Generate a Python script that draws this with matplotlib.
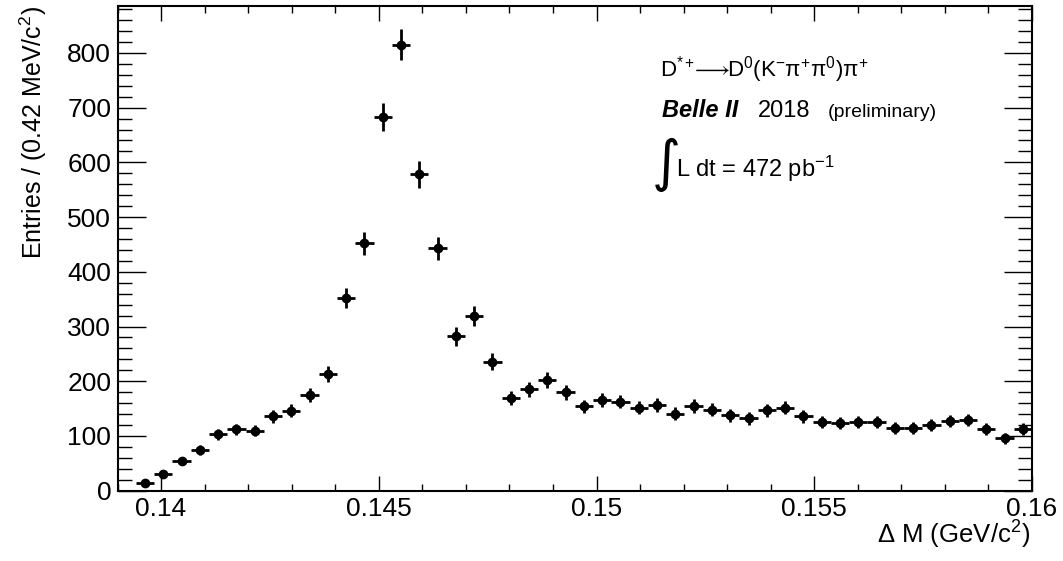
import numpy as np
import matplotlib
matplotlib.use('Agg')
import matplotlib.pyplot as plt
from matplotlib.ticker import MultipleLocator, FuncFormatter

plt.rcParams['font.family'] = ['Liberation Sans', 'DejaVu Sans']
plt.rcParams['mathtext.fontset'] = 'custom'
plt.rcParams['mathtext.rm'] = 'Liberation Sans'
plt.rcParams['mathtext.it'] = 'Liberation Sans:italic'
plt.rcParams['mathtext.bf'] = 'Liberation Sans:bold'

# Histogram definition
x_min = 0.139
x_max = 0.160
bin_width = 0.00042
counts = [0, 14, 31, 55, 74, 103, 112, 110, 136, 146,
          175, 213, 352, 452, 683, 815, 578, 443, 282, 319,
          236, 170, 185, 202, 180, 154, 165, 163, 152, 157,
          141, 155, 148, 138, 132, 147, 152, 136, 125, 123,
          125, 125, 114, 115, 120, 127, 129, 113, 96, 113]

x_ticks = [0.14, 0.145, 0.15, 0.155, 0.16]

counts = np.array(counts, dtype=float)
centers = x_min + (np.arange(len(counts)) + 0.5) * bin_width
mask = counts > 0
errors = np.sqrt(counts)

W, H = 1063, 561
fig = plt.figure(figsize=(W / 100, H / 100), dpi=100)
ax = fig.add_axes([117.5 / W, 1 - 490.7 / H, (1032 - 117.5) / W, (490.7 - 6) / H])

ax.errorbar(centers[mask], counts[mask], xerr=bin_width / 2, yerr=errors[mask],
            fmt='o', color='black', ms=6, elinewidth=2.0, capsize=0)

ymax = 1.05 * (counts.max() + np.sqrt(counts.max()))
ax.set_xlim(x_min, x_max)
ax.set_ylim(0, ymax)

ax.set_xticks(x_ticks)
ax.xaxis.set_minor_locator(MultipleLocator(0.001))
ax.xaxis.set_major_formatter(FuncFormatter(lambda v, p: f'{v:g}'))
ax.yaxis.set_major_locator(MultipleLocator(100))
ax.yaxis.set_minor_locator(MultipleLocator(20))

ax.tick_params(axis='both', which='both', direction='in', top=True, right=True,
               labelsize=19, width=1.0, colors='black')
ax.tick_params(axis='x', which='major', length=10.6, pad=4.5)
ax.tick_params(axis='x', which='minor', length=5.3)
ax.tick_params(axis='y', which='major', length=20, pad=4.5)
ax.tick_params(axis='y', which='minor', length=10.3)
for s in ax.spines.values():
    s.set_linewidth(1.5)

fig.text(1030 / W, 1 - 543.5 / H, r'$\Delta$ M (GeV/c$\mathregular{^{2}}$)',
         ha='right', va='baseline', fontsize=18.5)
fig.text(33 / W, 1 - 6 / H, r'Entries / (0.42 MeV/c$\mathregular{^{2}}$)',
         ha='center', va='top', rotation=90, fontsize=18)

fig.text(660 / W, 1 - 76.7 / H,
         r'D$\mathregular{^{*+}}\!\!\longrightarrow\!\!$D$\mathregular{^{0}}$(K$\mathregular{^{-}}$π$\mathregular{^{+}}$π$\mathregular{^{0}}$)π$\mathregular{^{+}}$',
         ha='left', va='baseline', fontsize=16)
fig.text(661.7 / W, 1 - 117 / H, 'Belle II', ha='left', va='baseline',
         fontsize=17, fontweight='bold', fontstyle='italic')
fig.text(758 / W, 1 - 117 / H, '2018', ha='left', va='baseline', fontsize=17)
fig.text(827.7 / W, 1 - 117 / H, '(preliminary)', ha='left', va='baseline', fontsize=14)
fig.text(652 / W, 1 - 192 / H, '∫', ha='left', va='bottom', fontsize=40,
         family=['DejaVu Sans'])
fig.text(676 / W, 1 - 176.7 / H, r'L dt = 472 pb$\mathregular{^{-1}}$',
         ha='left', va='baseline', fontsize=17)

fig.savefig('out.png', dpi=100)
